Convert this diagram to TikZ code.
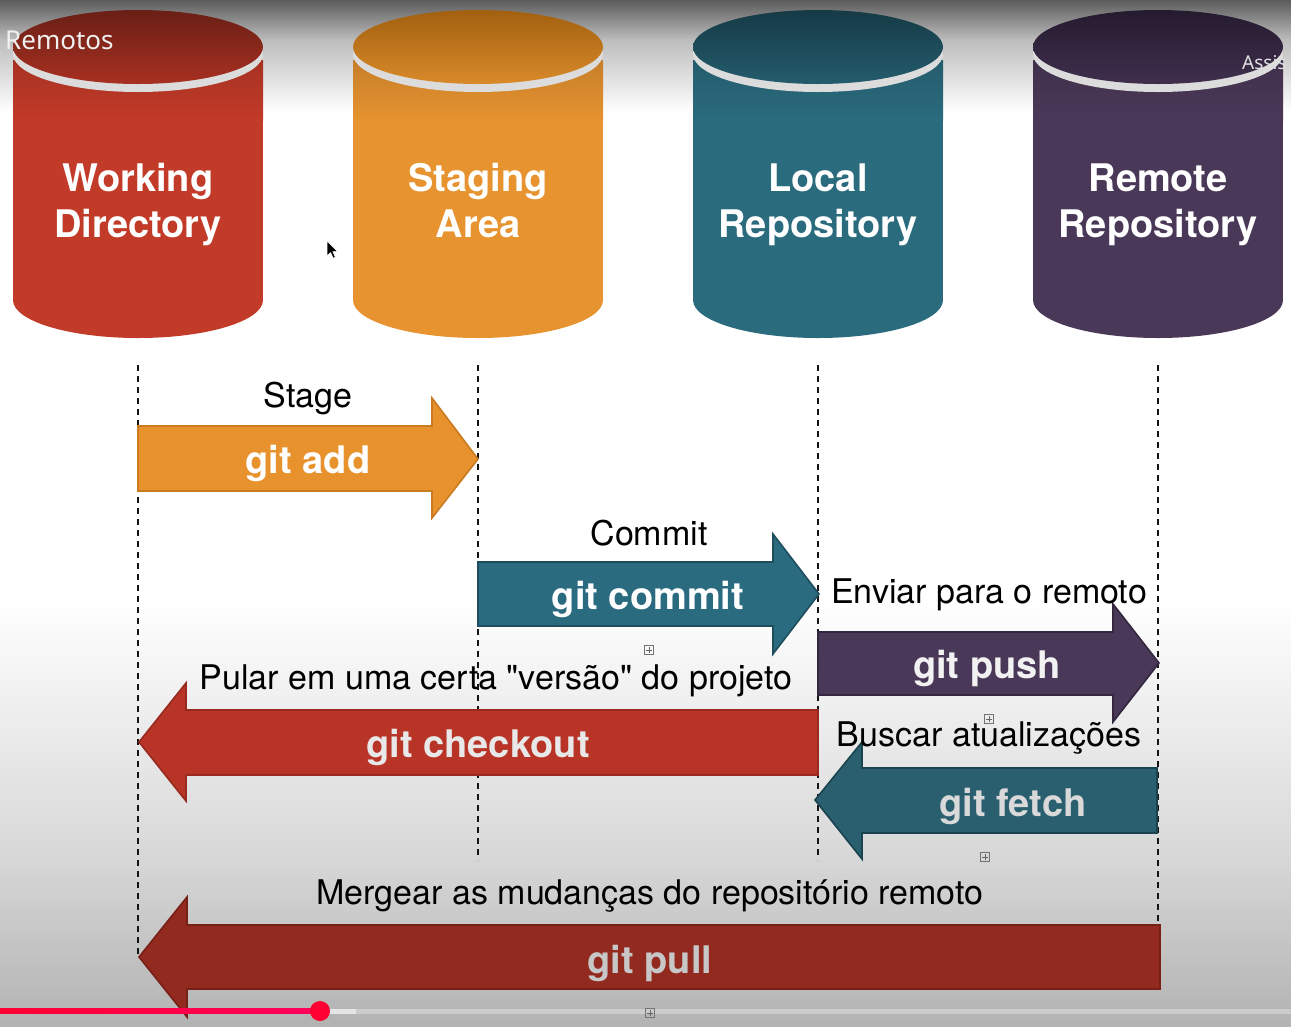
\documentclass[tikz,border=0pt]{standalone}
\usepackage{fontspec}
\setmainfont{TeX Gyre Heros}[Ligatures=TeXOff]
\newfontfamily\ytfont{Noto Sans}
\definecolor{wdbody}{HTML}{C23A28}
\definecolor{wdlidtop}{HTML}{6A1F16}
\definecolor{wdlidbot}{HTML}{A83021}
\definecolor{sabody}{HTML}{E69330}
\definecolor{salidtop}{HTML}{A2600F}
\definecolor{salidbot}{HTML}{D98A2A}
\definecolor{lrbody}{HTML}{2A6B7E}
\definecolor{lrlidtop}{HTML}{163A46}
\definecolor{lrlidbot}{HTML}{245C6D}
\definecolor{rrbody}{HTML}{4A3858}
\definecolor{rrlidtop}{HTML}{251B2F}
\definecolor{rrlidbot}{HTML}{3F2F4D}
\definecolor{rimcol}{HTML}{DCDCDC}
\definecolor{addcol}{HTML}{E8922E}
\definecolor{addedge}{HTML}{C97B22}
\definecolor{commitcol}{HTML}{2B6B80}
\definecolor{commitedge}{HTML}{1E4E5E}
\definecolor{pushcol}{HTML}{4A3858}
\definecolor{pushedge}{HTML}{33263F}
\definecolor{checkcol}{HTML}{B73427}
\definecolor{checkedge}{HTML}{982A1F}
\definecolor{fetchcol}{HTML}{2A5F70}
\definecolor{fetchedge}{HTML}{1A4350}
\definecolor{pullcol}{HTML}{922A1F}
\definecolor{pulledge}{HTML}{772018}
\definecolor{ytred}{HTML}{FF0033}
\newcommand\mycyl[6]{%
  \fill[#2] (#1-125,60) rectangle (#1+125,300);
  \fill[#2] (#1,300) ellipse [x radius=125, y radius=38];
  \shade[top color=#2!86!black, bottom color=#2] (#1-125,60) rectangle (#1+125,120);
  \begin{scope}
    \clip (#1-126,47) rectangle (#1+126,100);
    \fill[rimcol] (#1,54) ellipse [x radius=125, y radius=38];
  \end{scope}
  \shade[top color=#3, bottom color=#4] (#1,47) ellipse [x radius=125, y radius=37];
  \node[cyltext] (#5) at (#1,205) {#6};
}
\begin{document}
\begin{tikzpicture}[x=1pt,y=-1pt,
  cyltext/.style={text=white, font=\fontsize{38}{46}\selectfont\bfseries, align=center, inner sep=0pt},
  arrtext/.style={font=\fontsize{38}{44}\selectfont\bfseries, inner sep=0pt},
  lbl/.style={font=\fontsize{34}{38}\selectfont, text=black, inner sep=0pt},
  vline/.style={draw=black!92, line width=2.8pt, dash pattern=on 6pt off 5pt},
  barrow/.style={line width=1.6pt, line join=miter},
  plusbox/.style={draw=black!55, line width=0.8pt, minimum size=9pt, inner sep=0pt,
    path picture={\draw[black!60, line width=0.8pt]
      ([xshift=-3pt]path picture bounding box.center) -- ([xshift=3pt]path picture bounding box.center)
      ([yshift=-3pt]path picture bounding box.center) -- ([yshift=3pt]path picture bounding box.center);}}
]
\useasboundingbox (0,0) rectangle (1291,1026);
% background
\fill[white] (0,0) rectangle (1291,1026);
\shade[top color=black!64, bottom color=black!26] (0,0) rectangle (1291,40);
\shade[top color=black!26, bottom color=white] (0,39.5) rectangle (1291,112);
\shade[top color=white, bottom color=black!15] (0,600) rectangle (1291,850);
\shade[top color=black!15, bottom color=black!30] (0,849.5) rectangle (1291,1026);
% cylinders
\mycyl{138}{wdbody}{wdlidtop}{wdlidbot}{wd}{Working\strut\\Directory\strut}
\mycyl{478}{sabody}{salidtop}{salidbot}{sa}{Staging\strut\\Area\strut}
\mycyl{818}{lrbody}{lrlidtop}{lrlidbot}{lr}{Local\strut\\Repository\strut}
\mycyl{1158}{rrbody}{rrlidtop}{rrlidbot}{rr}{Remote\strut\\Repository\strut}
% dashed guide lines
\coordinate (wdA) at (138,365); \coordinate (wdB) at (138,955);
\coordinate (saA) at (478,365); \coordinate (saB) at (478,860);
\coordinate (lrA) at (818,365); \coordinate (lrB) at (818,860);
\coordinate (rrA) at (1158,365); \coordinate (rrB) at (1158,925);
\draw[vline] (wdA) -- (wdB);
\draw[vline] (saA) -- (saB);
\draw[vline] (lrA) -- (lrB);
\draw[vline] (rrA) -- (rrB);
% block arrows
\draw[barrow, fill=addcol, draw=addedge] (138,426) -- (432,426) -- (432,398) -- (478,459) -- (432,518) -- (432,491) -- (138,491) -- cycle;
\draw[barrow, fill=commitcol, draw=commitedge] (478,562) -- (773,562) -- (773,534) -- (819,594) -- (773,654) -- (773,626) -- (478,626) -- cycle;
\draw[barrow, fill=pushcol, draw=pushedge] (818,632) -- (1113,632) -- (1113,604) -- (1159,663) -- (1113,722) -- (1113,695) -- (818,695) -- cycle;
\draw[barrow, fill=checkcol, draw=checkedge] (818,710) -- (186,710) -- (186,683) -- (139,742) -- (186,801) -- (186,775) -- (818,775) -- cycle;
\draw[barrow, fill=fetchcol, draw=fetchedge] (1157,768) -- (862,768) -- (862,742) -- (815,800) -- (862,859) -- (862,833) -- (1157,833) -- cycle;
\draw[barrow, fill=pullcol, draw=pulledge] (1160,925) -- (187,925) -- (187,897) -- (139,957) -- (187,1017) -- (187,989) -- (1160,989) -- cycle;
% arrow texts
\node[arrtext, text=white] (tadd) at (308,463) {git add};
\node[arrtext, text=white] (tcommit) at (648,599) {git commit};
\node[arrtext, text=black!5] (tpush) at (987,668) {git push};
\node[arrtext, text=black!9] (tcheck) at (478,747) {git checkout};
\node[arrtext, text=black!15] (tfetch) at (1013,806) {git fetch};
\node[arrtext, text=black!22] (tpull) at (650,963) {git pull};
% labels
\node[lbl] (lstage) at (308,398) {Stage};
\node[lbl] (lcommit) at (649,533) {Commit};
\node[lbl] (lpush) at (989,595) {Enviar para o remoto};
\node[lbl] (lcheck) at (496,681) {Pular em uma certa "versão" do projeto};
\node[lbl] (lfetch) at (989,738) {Buscar atualizações};
\node[lbl] (lpull) at (650,896) {Mergear as mudanças do repositório remoto};
% small editor marks
\node[plusbox] (pb1) at (649,650) {};
\node[plusbox] (pb2) at (989,719) {};
\node[plusbox] (pb3) at (985,857) {};
% video overlay
\node[anchor=west, text=white!94!black, font=\ytfont\fontsize{26}{30}\selectfont, inner sep=0pt] (yt1) at (5,40) {Remotos};
\node[anchor=west, text=white!88!black, font=\ytfont\bfseries\fontsize{19}{22}\selectfont, inner sep=0pt] (yt2) at (1242,63) {Assis};
% progress bar
\fill[black!20] (0,1008.5) rectangle (1291,1013.5);
\fill[black!10] (320,1008.5) rectangle (356,1013.5);
\shade[left color=ytred, right color=ytred!80!magenta] (0,1008.5) rectangle (320,1013.5);
\node[plusbox] (pb4) at (650,1013) {};
\fill[ytred] (320,1011) circle[radius=10];
% mouse cursor
\fill[black, draw=white, line width=0.6pt] (327,241) -- (327,256) -- (330.6,252.6) -- (333.2,258.2) -- (335.4,257.2) -- (332.8,251.6) -- (337.6,251.6) -- cycle;
\end{tikzpicture}
\end{document}
